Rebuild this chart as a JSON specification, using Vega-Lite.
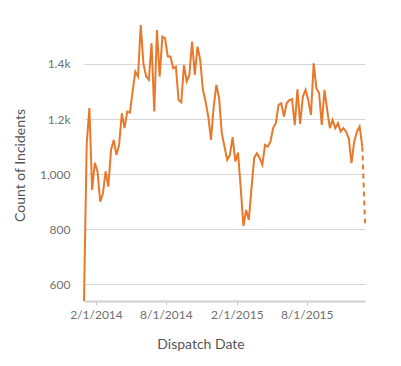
{
  "$schema": "https://vega.github.io/schema/vega-lite/v6.json",
  "width": 281,
  "height": 276,
  "autosize": "none",
  "padding": {"left": 84, "top": 25, "right": 36, "bottom": 65},
  "config": {
    "font": "Lato",
    "view": {"stroke": null},
    "axis": {"labelFont": "Lato", "titleFont": "Lato", "labelColor": "#707070", "titleColor": "#555555", "labelFontSize": 12, "titleFontSize": 14, "titleFontWeight": "normal"}
  },
  "data": {"values": [
    {"date": "2014-01-01", "count": 540},
    {"date": "2014-01-08", "count": 1110},
    {"date": "2014-01-15", "count": 1240},
    {"date": "2014-01-22", "count": 943},
    {"date": "2014-01-29", "count": 1041},
    {"date": "2014-02-05", "count": 1010},
    {"date": "2014-02-12", "count": 900},
    {"date": "2014-02-19", "count": 930},
    {"date": "2014-02-26", "count": 1010},
    {"date": "2014-03-05", "count": 955},
    {"date": "2014-03-12", "count": 1088},
    {"date": "2014-03-19", "count": 1124},
    {"date": "2014-03-26", "count": 1070},
    {"date": "2014-04-02", "count": 1106},
    {"date": "2014-04-09", "count": 1221},
    {"date": "2014-04-16", "count": 1167},
    {"date": "2014-04-23", "count": 1227},
    {"date": "2014-04-30", "count": 1223},
    {"date": "2014-05-07", "count": 1300},
    {"date": "2014-05-14", "count": 1372},
    {"date": "2014-05-21", "count": 1354},
    {"date": "2014-05-28", "count": 1541},
    {"date": "2014-06-04", "count": 1400},
    {"date": "2014-06-11", "count": 1355},
    {"date": "2014-06-18", "count": 1342},
    {"date": "2014-06-25", "count": 1475},
    {"date": "2014-07-02", "count": 1227},
    {"date": "2014-07-09", "count": 1523},
    {"date": "2014-07-16", "count": 1354},
    {"date": "2014-07-23", "count": 1499},
    {"date": "2014-07-30", "count": 1493},
    {"date": "2014-08-06", "count": 1427},
    {"date": "2014-08-13", "count": 1427},
    {"date": "2014-08-20", "count": 1384},
    {"date": "2014-08-27", "count": 1390},
    {"date": "2014-09-03", "count": 1269},
    {"date": "2014-09-10", "count": 1261},
    {"date": "2014-09-17", "count": 1396},
    {"date": "2014-09-24", "count": 1336},
    {"date": "2014-10-01", "count": 1360},
    {"date": "2014-10-08", "count": 1481},
    {"date": "2014-10-15", "count": 1360},
    {"date": "2014-10-22", "count": 1463},
    {"date": "2014-10-29", "count": 1415},
    {"date": "2014-11-05", "count": 1306},
    {"date": "2014-11-12", "count": 1263},
    {"date": "2014-11-19", "count": 1209},
    {"date": "2014-11-26", "count": 1124},
    {"date": "2014-12-03", "count": 1245},
    {"date": "2014-12-10", "count": 1324},
    {"date": "2014-12-17", "count": 1276},
    {"date": "2014-12-24", "count": 1149},
    {"date": "2014-12-31", "count": 1100},
    {"date": "2015-01-07", "count": 1052},
    {"date": "2015-01-14", "count": 1070},
    {"date": "2015-01-21", "count": 1134},
    {"date": "2015-01-28", "count": 1046},
    {"date": "2015-02-04", "count": 1078},
    {"date": "2015-02-11", "count": 950},
    {"date": "2015-02-18", "count": 812},
    {"date": "2015-02-25", "count": 870},
    {"date": "2015-03-04", "count": 834},
    {"date": "2015-03-11", "count": 950},
    {"date": "2015-03-18", "count": 1060},
    {"date": "2015-03-25", "count": 1076},
    {"date": "2015-04-01", "count": 1058},
    {"date": "2015-04-08", "count": 1034},
    {"date": "2015-04-15", "count": 1106},
    {"date": "2015-04-22", "count": 1100},
    {"date": "2015-04-29", "count": 1118},
    {"date": "2015-05-06", "count": 1167},
    {"date": "2015-05-13", "count": 1185},
    {"date": "2015-05-20", "count": 1251},
    {"date": "2015-05-27", "count": 1257},
    {"date": "2015-06-03", "count": 1209},
    {"date": "2015-06-10", "count": 1257},
    {"date": "2015-06-17", "count": 1269},
    {"date": "2015-06-24", "count": 1272},
    {"date": "2015-07-01", "count": 1178},
    {"date": "2015-07-08", "count": 1308},
    {"date": "2015-07-15", "count": 1182},
    {"date": "2015-07-22", "count": 1281},
    {"date": "2015-07-29", "count": 1306},
    {"date": "2015-08-05", "count": 1269},
    {"date": "2015-08-12", "count": 1215},
    {"date": "2015-08-19", "count": 1402},
    {"date": "2015-08-26", "count": 1312},
    {"date": "2015-09-02", "count": 1294},
    {"date": "2015-09-09", "count": 1179},
    {"date": "2015-09-16", "count": 1306},
    {"date": "2015-09-23", "count": 1233},
    {"date": "2015-09-30", "count": 1167},
    {"date": "2015-10-07", "count": 1197},
    {"date": "2015-10-14", "count": 1167},
    {"date": "2015-10-21", "count": 1185},
    {"date": "2015-10-28", "count": 1154},
    {"date": "2015-11-04", "count": 1167},
    {"date": "2015-11-11", "count": 1154},
    {"date": "2015-11-18", "count": 1130},
    {"date": "2015-11-25", "count": 1040},
    {"date": "2015-12-02", "count": 1118},
    {"date": "2015-12-09", "count": 1154},
    {"date": "2015-12-16", "count": 1173},
    {"date": "2015-12-23", "count": 1100},
    {"date": "2015-12-30", "count": 822}
  ]},
  "encoding": {
    "x": {
      "field": "date", "type": "temporal",
      "scale": {"type": "utc"},
      "axis": {
        "title": "Dispatch Date",
        "values": [{"year": 2014, "month": 2, "date": 1, "utc": true}, {"year": 2014, "month": 8, "date": 1, "utc": true}, {"year": 2015, "month": 2, "date": 1, "utc": true}, {"year": 2015, "month": 8, "date": 1, "utc": true}],
        "labelExpr": "utcFormat(datum.value, '%-m/%-d/%Y')",
        "grid": false, "domainColor": "#d0d0d0", "domainWidth": 2, "tickColor": "#c8c8c8", "tickSize": 4, "labelPadding": 4, "labelFlush": false,
        "titleX": 116.5, "titleY": 43, "titleBaseline": "middle"
      }
    },
    "y": {
      "field": "count", "type": "quantitative",
      "scale": {"zero": false, "nice": false},
      "axis": {
        "title": "Count of Incidents",
        "values": [600, 800, 1000, 1200, 1400],
        "labelExpr": "datum.value > 1000 ? format(datum.value / 1000, '.1f') + 'k' : format(datum.value, ',')",
        "domain": false, "ticks": false, "labelPadding": 14, "gridColor": "#d6d6d6",
        "titleX": -63.5, "titleY": 140, "titleBaseline": "middle"
      }
    }
  },
  "layer": [
    {
      "transform": [{"filter": "time(datum.date) <= time(utc(2015, 11, 23))"}],
      "mark": {"type": "line", "color": "#e8782a", "strokeWidth": 2}
    },
    {
      "transform": [{"filter": "time(datum.date) >= time(utc(2015, 11, 23))"}],
      "mark": {"type": "line", "color": "#e8782a", "strokeWidth": 2, "strokeDash": [5, 4]}
    }
  ]
}
